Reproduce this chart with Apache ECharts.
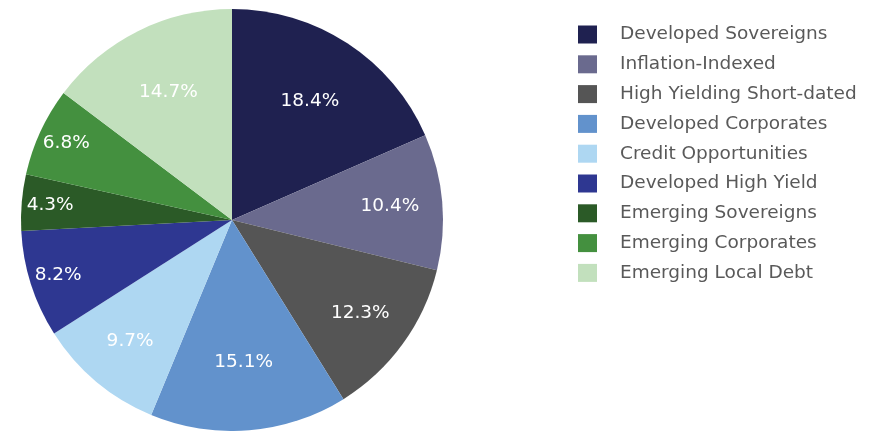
<!DOCTYPE html>
<html>
<head>
<meta charset="utf-8">
<script src="https://cdn.jsdelivr.net/npm/echarts@6/dist/echarts.min.js"></script>
<style>html,body{margin:0;padding:0;background:#fff;}#c{width:875px;height:431px;}</style>
</head>
<body>
<div id="c"></div>
<script>
const categories = ["Developed Sovereigns","Inflation-Indexed","High Yielding Short-dated","Developed Corporates","Credit Opportunities","Developed High Yield","Emerging Sovereigns","Emerging Corporates","Emerging Local Debt"];
const values = [18.4, 10.4, 12.3, 15.1, 9.7, 8.2, 4.3, 6.8, 14.7];
const colors = ["#1f2150","#6a6a8e","#555555","#6292cc","#aed7f2","#2e3791","#2b5a27","#44903f","#c2e0bd"];

const chart = echarts.init(document.getElementById('c'));
const data = categories.map((n, i) => ({ name: n, value: values[i], itemStyle: { color: colors[i] } }));

// label rings (style only): label distance from centre grouped by slice size
const rings = [
  { test: v => v >= 14, inner: 68 },
  { test: v => v >= 9 && v < 14, inner: 100 },
  { test: v => v < 9, inner: 148 }
];
const labelSeries = rings.map(r => ({
  type: 'pie',
  center: [232, 220],
  radius: [r.inner, 211],
  startAngle: 90,
  clockwise: true,
  silent: true,
  legendHoverLink: false,
  itemStyle: { color: 'rgba(0,0,0,0)' },
  labelLine: { show: false },
  label: { show: true, position: 'inside', color: '#ffffff', fontFamily: 'DejaVu Sans', fontSize: 18.5,
    formatter: p => p.value.toFixed(1) + '%' },
  data: categories.map((n, i) => ({ name: n + ' ', value: values[i], label: { show: r.test(values[i]) } }))
}));

chart.setOption({
  animation: false,
  legend: {
    orient: 'vertical',
    left: 578,
    top: 25,
    padding: 0,
    itemWidth: 19,
    itemHeight: 18,
    itemGap: 10.8,
    icon: 'rect',
    textStyle: { fontFamily: 'DejaVu Sans', fontSize: 18.5, color: '#595959', padding: [0, 0, 0, 18] },
    data: categories
  },
  series: [{
    type: 'pie',
    center: [232, 220],
    radius: [0, 211],
    startAngle: 90,
    clockwise: true,
    label: { show: false },
    labelLine: { show: false },
    itemStyle: { borderWidth: 0 },
    data: data
  }].concat(labelSeries)
});
</script>
</body>
</html>
